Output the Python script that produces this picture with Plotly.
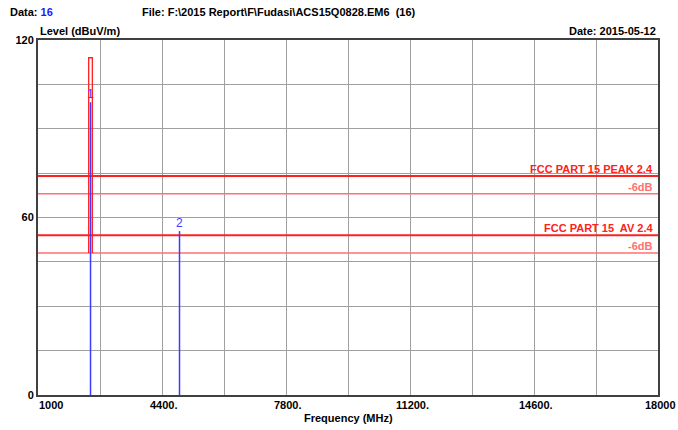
import plotly.graph_objects as go

# ---- data ----
x_grid = [1000, 2700, 4400, 6100, 7800, 9500, 11200, 12900, 14600, 16300, 18000]
x_labels = ["1000", "", "4400.", "", "7800.", "", "11200.", "", "14600.", "", "18000"]
y_grid = [0, 15, 30, 45, 60, 75, 90, 105, 120]
y_labels = ["0", "", "", "", "60", "", "", "", "120"]

red_freq = [2390, 2390, 2490, 2490]
red_level = [48, 114, 114, 48]

marker_freq = [2440, 4880]
marker_level = [99, 55.4]
marker_names = ["1", "2"]

limit_names = ["FCC PART 15 PEAK 2.4", "FCC PART 15  AV 2.4"]
limit_levels = [74, 54]
margin_db = 6

FONT = "Liberation Sans, Arial, sans-serif"
RED = "#ff2020"
PINK = "#ff7070"
BLUE = "#3c3cff"

fig = go.Figure()

# limit lines and -6dB lines
for name, lv in zip(limit_names, limit_levels):
    fig.add_trace(go.Scatter(x=[x_grid[0], x_grid[-1]], y=[lv, lv], mode="lines",
                             line=dict(color=RED, width=2), hoverinfo="skip"))
    fig.add_trace(go.Scatter(x=[x_grid[0], x_grid[-1]], y=[lv - margin_db, lv - margin_db],
                             mode="lines", line=dict(color=PINK, width=1.5), hoverinfo="skip"))
    fig.add_annotation(x=x_grid[-1], y=lv, xref="x", yref="y",
                       text="<b>" + name.replace("  ", "&nbsp; ") + "</b>",
                       showarrow=False, xanchor="right", yanchor="bottom", xshift=-3, yshift=-1,
                       font=dict(family=FONT, size=11, color=RED))
    fig.add_annotation(x=x_grid[-1], y=lv, xref="x", yref="y", text="<b>-%ddB</b>" % margin_db,
                       showarrow=False, xanchor="right", yanchor="top", xshift=-3, yshift=-3,
                       font=dict(family=FONT, size=11, color=PINK))

# red trace
fig.add_trace(go.Scatter(x=red_freq, y=red_level, mode="lines",
                         line=dict(color=RED, width=1.3), hoverinfo="skip"))

# marker stems
sx, sy = [], []
for f, l in zip(marker_freq, marker_level):
    sx += [f, f, None]
    sy += [0, l, None]
fig.add_trace(go.Scatter(x=sx, y=sy, mode="lines", line=dict(color=BLUE, width=1.5),
                         hoverinfo="skip"))
for f, l, n in zip(marker_freq, marker_level, marker_names):
    fig.add_annotation(x=f, y=l, xref="x", yref="y", text=n, showarrow=False,
                       yanchor="bottom", yshift=-1, font=dict(family=FONT, size=12, color=BLUE))

# x tick labels
for v, t in zip(x_grid, x_labels):
    if t:
        anchor = "left" if v == x_grid[0] else "center"
        fig.add_annotation(x=v, y=0, xref="x", yref="paper", text="<b>" + t + "</b>",
                           showarrow=False, xanchor=anchor, yanchor="top", yshift=-2,
                           xshift=(-1 if v == x_grid[0] else 2),
                           font=dict(family=FONT, size=11, color="#000000"))

# header texts
fig.add_annotation(x=0, y=1, xref="paper", yref="paper", xanchor="left", yanchor="bottom",
                   xshift=-30, yshift=20, showarrow=False,
                   text="<b>Data: <span style='color:#1a1aff'>16</span></b>",
                   font=dict(family=FONT, size=11, color="#000000"))
fig.add_annotation(x=0.1645, y=1, xref="paper", yref="paper", xanchor="left", yanchor="bottom",
                   yshift=20, showarrow=False,
                   text="<b>File: F:\\2015 Report\\F\\Fudasi\\ACS15Q0828.EM6&nbsp; (16)</b>",
                   font=dict(family=FONT, size=11, color="#000000"))
fig.add_annotation(x=0, y=1, xref="paper", yref="paper", xanchor="left", yanchor="bottom",
                   yshift=1, showarrow=False, text="<b>Level (dBuV/m)</b>",
                   font=dict(family=FONT, size=11, color="#000000"))
fig.add_annotation(x=1, y=1, xref="paper", yref="paper", xanchor="right", yanchor="bottom",
                   yshift=1, showarrow=False, text="<b>Date: 2015-05-12</b>",
                   font=dict(family=FONT, size=11, color="#000000"))
fig.add_annotation(x=0.5, y=0, xref="paper", yref="paper", xanchor="center", yanchor="top",
                   yshift=-15, showarrow=False, text="<b>Frequency (MHz)</b>",
                   font=dict(family=FONT, size=11, color="#000000"))

fig.update_layout(
    width=678, height=430,
    margin=dict(l=38, r=20, t=40, b=35, autoexpand=False),
    paper_bgcolor="white", plot_bgcolor="white",
    showlegend=False,
    font=dict(family=FONT, size=11, color="#000000"),
)
fig.update_xaxes(range=[x_grid[0], x_grid[-1]], tickvals=x_grid, showticklabels=False,
                 showgrid=True, gridcolor="#a0a0a0", gridwidth=1, zeroline=False,
                 showline=True, linecolor="#404040", linewidth=2, mirror=True, ticks="",
                 automargin=False)
fig.update_yaxes(range=[y_grid[0], y_grid[-1]], tickvals=y_grid,
                 ticktext=["<b>" + t + "</b>" for t in y_labels],
                 showgrid=True, gridcolor="#a0a0a0", gridwidth=1, zeroline=False,
                 showline=True, linecolor="#404040", linewidth=2, mirror=True, ticks="",
                 tickfont=dict(family=FONT, size=11, color="#000000"), automargin=False)

fig.write_html("out.html")
